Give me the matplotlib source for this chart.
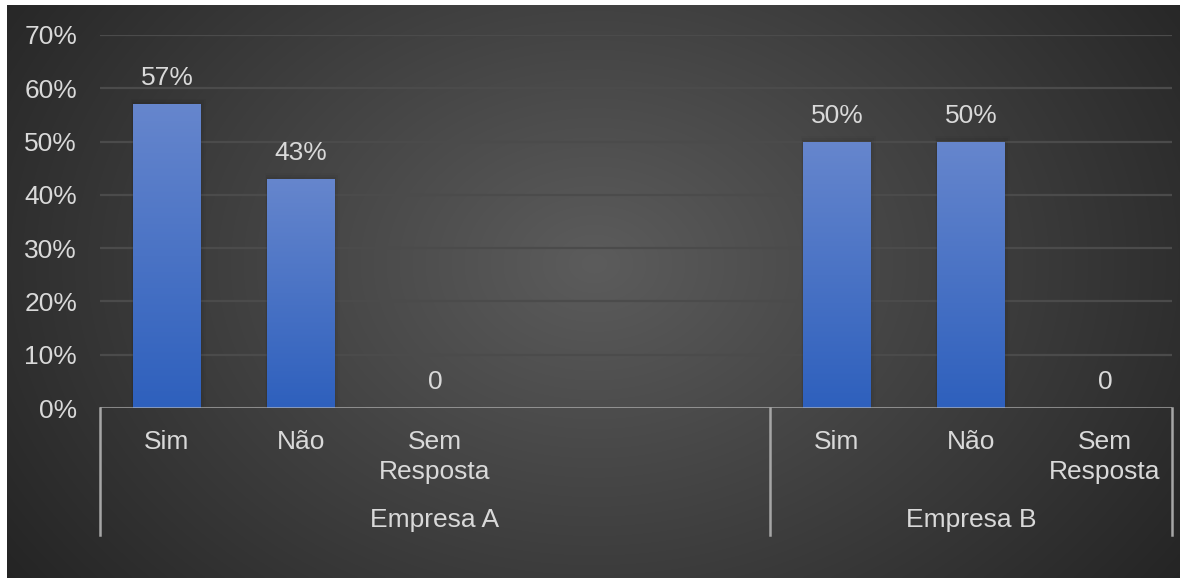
import numpy as np
import matplotlib
matplotlib.use("Agg")
import matplotlib.pyplot as plt
from matplotlib.colors import LinearSegmentedColormap
from matplotlib.patches import Rectangle

# --- data -------------------------------------------------------------
groups = ["Empresa A", "Empresa B"]
cats_a = ["Sim", "Não", "Sem\nResposta", "", ""]
vals_a = [0.57, 0.43, 0.0, None, None]
cats_b = ["Sim", "Não", "Sem\nResposta"]
vals_b = [0.50, 0.50, 0.0]
y_ticks = [0.0, 0.1, 0.2, 0.3, 0.4, 0.5, 0.6, 0.7]

plt.rcParams["font.family"] = ["Liberation Sans", "DejaVu Sans"]
TXT = "#D9D9D9"
FS = 19

W, H = 1180, 578
PT = 72 / 100  # points per pixel at 100 dpi
fig = plt.figure(figsize=(W / 100, H / 100), dpi=100, facecolor="white")

# radial dark background panel
bg = fig.add_axes([7 / W, 0, 1 - 7 / W, 1 - 5 / H], zorder=0)
bg.set_axis_off()
ny, nx = 300, 600
yy, xx = np.mgrid[0:ny, 0:nx]
cx, cy = nx * 0.50, ny * 0.45
r = np.sqrt(((xx - cx) / (nx * 0.62)) ** 2 + ((yy - cy) / (ny * 0.95)) ** 2)
r = np.clip(r, 0, 1)
c0 = np.array([0x5C, 0x5C, 0x5C]) / 255
c1 = np.array([0x24, 0x24, 0x24]) / 255
img = c0[None, None, :] * (1 - r[..., None]) + c1[None, None, :] * r[..., None]
bg.imshow(img, aspect="auto", extent=[0, 1, 0, 1], interpolation="bilinear")
bg.set_xlim(0, 1)
bg.set_ylim(0, 1)

# main axes
left, right = 100 / W, 1172 / W
bottom, top = (H - 408) / H, (H - 35) / H
ax = fig.add_axes([left, bottom, right - left, top - bottom], zorder=1)
ax.patch.set_alpha(0)

cats = cats_a + cats_b
vals = vals_a + vals_b
x = np.arange(len(cats))
heights = [v if v is not None else 0 for v in vals]

ax.set_xlim(-0.5, len(cats) - 0.5)
ax.set_ylim(0, 0.7)
for s in ax.spines.values():
    s.set_visible(False)

# gridlines
for t in y_ticks[1:]:
    ax.axhline(t, color="#4B4B4B", lw=1.6, zorder=1)

ax.set_yticks(y_ticks)
ax.set_yticklabels([f"{t:.0%}" for t in y_ticks])
ax.tick_params(axis="y", length=0, pad=23 * PT, labelsize=FS, labelcolor=TXT)
ax.set_xticks([])

bars = ax.bar(x, heights, width=0.505, color="none", zorder=3)
grad = LinearSegmentedColormap.from_list("g", ["#2E60BD", "#6686CD"])
gimg = np.linspace(0, 1, 256)[:, None]
for b, v in zip(bars, vals):
    if not v:
        continue
    bx, by = b.get_x(), b.get_y()
    bw, bh = b.get_width(), b.get_height()
    # soft shadow
    for k, a in enumerate([0.045, 0.035, 0.025]):
        d = 0.012 * (k + 1)
        ax.add_patch(Rectangle((bx - d * 0.5, by), bw + d * 1.5, bh + d * 0.3,
                               color="black", alpha=a, lw=0, zorder=2))
    im = ax.imshow(gimg, cmap=grad, origin="lower", aspect="auto",
                   extent=[bx, bx + bw, by, by + bh], zorder=3)
    im.set_clip_path(b)

# value labels
for xi, v in zip(x, vals):
    if v is None:
        continue
    lab = "0" if v == 0 else f"{v:.0%}"
    ax.annotate(lab, (xi, v), xytext=(0, 26 * PT), textcoords="offset points",
                ha="center", va="center", fontsize=FS, color=TXT, zorder=5)

# category axis line
ax.axhline(0, color="#BFBFBF", alpha=0.6, lw=2.2, zorder=4)

trans = ax.get_xaxis_transform()
px = 1 / (top - bottom) / H  # axes fraction per pixel (vertical)

for xi, c in zip(x, cats):
    for i, line in enumerate(c.split("\n")):
        if line:
            ax.text(xi, -(41 + 30 * i) * px, line, transform=trans,
                    ha="center", va="baseline", fontsize=FS, color=TXT)

# group labels and separators
n_a, n_b = len(cats_a), len(cats_b)
edges = [-0.5, n_a - 0.5, n_a + n_b - 0.5]
for e in edges:
    ax.plot([e, e], [0, -127 * px], transform=trans, color="#A6A6A6",
            lw=1.8, clip_on=False, zorder=4)
for g, (a, b) in zip(groups, [(edges[0], edges[1]), (edges[1], edges[2])]):
    ax.text((a + b) / 2, -119 * px, g, transform=trans, ha="center",
            va="baseline", fontsize=FS, color=TXT)

fig.savefig("out.png", dpi=100, facecolor="white")
